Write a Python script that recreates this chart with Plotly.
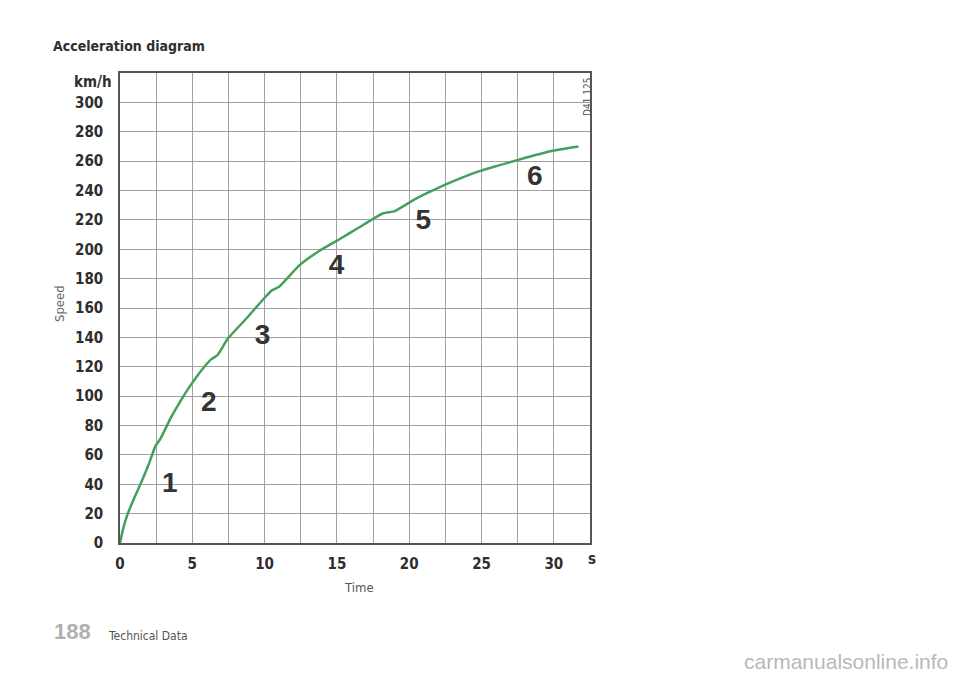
import plotly.graph_objects as go

# Data
time_s = [0, 0.2, 0.5, 1.0, 1.5, 2.0, 2.45, 2.8, 3.5, 4.2, 4.85, 5.75, 6.3, 6.75, 7.45,
          8.75, 10.1, 10.5, 11.0, 12.4, 13.8, 15.2, 16.55, 18.2, 19.0, 20.2,
          21.4, 22.5, 24.8, 27.6, 29.9, 31.7]
speed_kmh = [0, 9, 19, 31, 42, 54, 66, 71, 85, 97, 107, 119, 125, 128, 139,
             153, 168, 172, 174.5, 189, 199, 207, 215, 224.5, 226, 233,
             239, 244, 253, 261, 267, 270]

gear_labels = ["1", "2", "3", "4", "5", "6"]
gear_t = [3.45, 6.14, 9.86, 14.97, 20.97, 28.69]
gear_v = [39.5, 94.6, 140.2, 187.9, 218.5, 248.8]

x_grid = [i * 2.5 for i in range(14)]
x_text = [str(int(v)) if v % 5 == 0 else "" for v in x_grid]
y_ticks = list(range(0, 301, 20))
y_text = [str(v) for v in y_ticks]

NARROW = "Liberation Sans Narrow, Arial Narrow, DejaVu Sans Condensed, sans-serif"

# page offset (body margin) compensation
OFF = 8
L, R, T, B = 120, 590, 73, 543
W, H = R - L, B - T
FIG_W, FIG_H = 960 - OFF, 678 - OFF


def px(x):
    return (x - L) / W


def py(y):
    return (B - y) / H


fig = go.Figure()
fig.add_trace(go.Scatter(
    x=time_s, y=speed_kmh, mode="lines",
    line=dict(color="#42a05c", width=2.5, shape="spline", smoothing=0.5),
    hoverinfo="skip", showlegend=False))

fig.add_trace(go.Scatter(
    x=gear_t, y=gear_v, mode="text", text=[f"<b>{g}</b>" for g in gear_labels],
    textfont=dict(family="Liberation Sans, Arial, sans-serif", size=28, color="#333333"),
    textposition="middle center", hoverinfo="skip", showlegend=False))

annotations = [
    dict(text="<b>Acceleration diagram</b>", x=px(51), y=py(46), xanchor="left", yanchor="middle",
         font=dict(family=NARROW, size=14, color="#2e2e2e")),
    dict(text="<b>km/h</b>", x=px(114), y=py(82), xanchor="right", yanchor="middle",
         font=dict(family=NARROW, size=15, color="#2e2e2e")),
    dict(text="<b>s</b>", x=px(592), y=py(559), xanchor="center", yanchor="middle",
         font=dict(family=NARROW, size=15, color="#2e2e2e")),
    dict(text="Speed", x=px(59), y=py(304), xanchor="center", yanchor="middle", textangle=-90,
         font=dict(family=NARROW, size=13, color="#666666")),
    dict(text="Time", x=px(359), y=py(587), xanchor="center", yanchor="middle",
         font=dict(family=NARROW, size=13, color="#555555")),
    dict(text="D41 125", x=px(588), y=py(97), xanchor="center", yanchor="middle", textangle=-90,
         font=dict(family=NARROW, size=10, color="#555555")),
    dict(text="<b>188</b>", x=px(52), y=py(631), xanchor="left", yanchor="middle",
         font=dict(family="Liberation Sans, Arial, sans-serif", size=22, color="#b0b0b0")),
    dict(text="Technical Data", x=px(106), y=py(636), xanchor="left", yanchor="middle",
         font=dict(family=NARROW, size=12, color="#555555")),
    dict(text="carmanualsonline.info", x=px(950), y=py(661), xanchor="right", yanchor="middle",
         font=dict(family="Liberation Sans, Arial, sans-serif", size=21, color="#b8b8b8")),
]
for a in annotations:
    a.update(xref="paper", yref="paper", showarrow=False)

fig.update_layout(
    width=FIG_W, height=FIG_H,
    margin=dict(l=L - OFF, r=FIG_W - (R - OFF), t=T - OFF, b=FIG_H - (B - OFF)),
    paper_bgcolor="white", plot_bgcolor="white",
    annotations=annotations,
    xaxis=dict(range=[0, 32.5], tickmode="array", tickvals=x_grid,
               ticktext=[f"<b>{t}</b>" if t else "" for t in x_text],
               showgrid=True, gridcolor="#a0a0a0", gridwidth=1, zeroline=False,
               showline=True, linecolor="#555555", linewidth=1.5, mirror=True,
               ticks="", ticklabelstandoff=6,
               tickfont=dict(family=NARROW, size=15, color="#2e2e2e")),
    yaxis=dict(range=[0, 320], tickmode="array", tickvals=y_ticks,
               ticktext=[f"<b>{t}</b>" for t in y_text],
               showgrid=True, gridcolor="#a0a0a0", gridwidth=1, zeroline=False,
               showline=True, linecolor="#555555", linewidth=1.5, mirror=True,
               ticks="", ticklabelstandoff=12,
               tickfont=dict(family=NARROW, size=15, color="#2e2e2e")),
)

fig.write_html("out.html")
